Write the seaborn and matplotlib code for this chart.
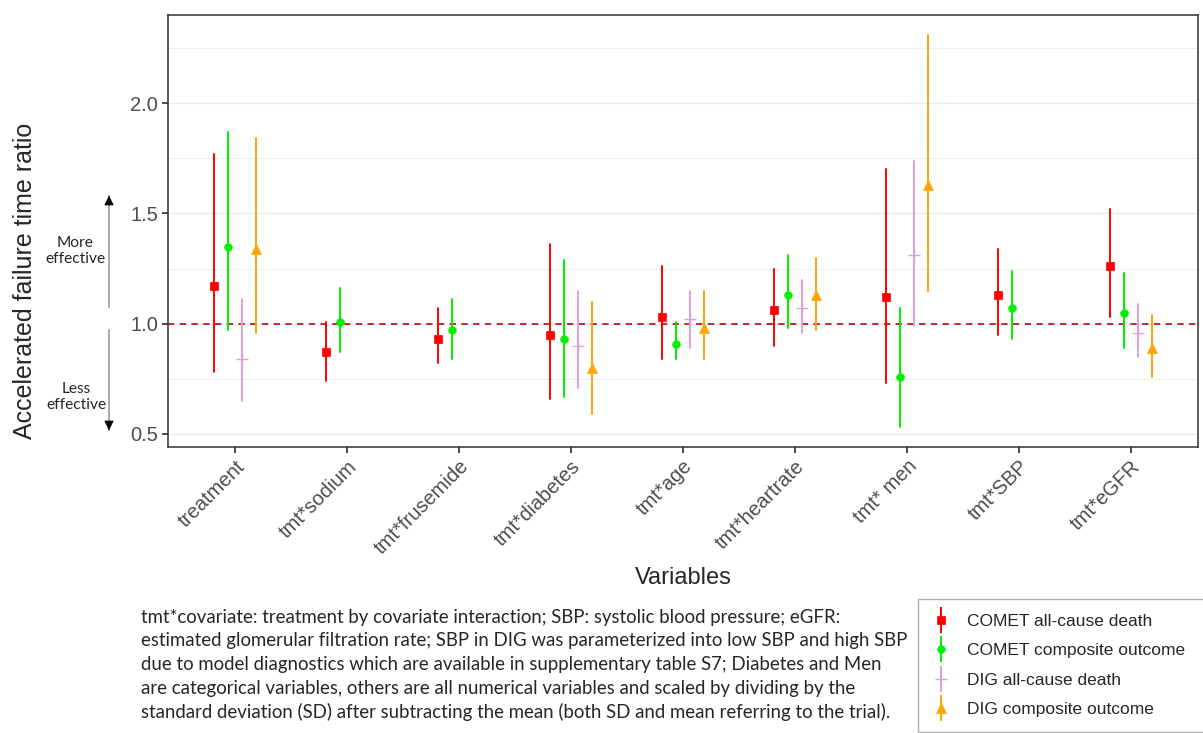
import matplotlib
matplotlib.use("Agg")
import matplotlib.pyplot as plt
from matplotlib.lines import Line2D
from matplotlib.ticker import MultipleLocator
import seaborn as sns
import pandas as pd

# categories on the x axis
variables = ["treatment", "tmt*sodium", "tmt*frusemide", "tmt*diabetes", "tmt*age",
             "tmt*heartrate", "tmt* men", "tmt*SBP", "tmt*eGFR"]
outcomes = ["COMET all-cause death", "COMET composite outcome",
            "DIG all-cause death", "DIG composite outcome"]

# COMET all-cause death
comet_death_est = [1.17, 0.87, 0.93, 0.95, 1.03, 1.06, 1.12, 1.13, 1.26]
comet_death_lo = [0.78, 0.74, 0.82, 0.66, 0.84, 0.90, 0.73, 0.95, 1.03]
comet_death_hi = [1.77, 1.01, 1.07, 1.36, 1.26, 1.25, 1.70, 1.34, 1.52]

# COMET composite outcome
comet_comp_est = [1.35, 1.01, 0.97, 0.93, 0.91, 1.13, 0.76, 1.07, 1.05]
comet_comp_lo = [0.97, 0.87, 0.84, 0.67, 0.84, 0.98, 0.53, 0.93, 0.89]
comet_comp_hi = [1.87, 1.16, 1.11, 1.29, 1.01, 1.31, 1.07, 1.24, 1.23]

# DIG (no sodium, frusemide, SBP)
dig_vars = ["treatment", "tmt*diabetes", "tmt*age", "tmt*heartrate", "tmt* men", "tmt*eGFR"]
dig_death_est = [0.84, 0.90, 1.02, 1.07, 1.31, 0.96]
dig_death_lo = [0.65, 0.71, 0.89, 0.96, 0.99, 0.85]
dig_death_hi = [1.11, 1.15, 1.15, 1.20, 1.74, 1.09]

dig_comp_est = [1.34, 0.80, 0.98, 1.13, 1.63, 0.89]
dig_comp_lo = [0.96, 0.59, 0.84, 0.97, 1.15, 0.76]
dig_comp_hi = [1.84, 1.10, 1.15, 1.30, 2.31, 1.04]

colors = {"COMET all-cause death": "#FF0000", "COMET composite outcome": "#00EE00",
          "DIG all-cause death": "#DDA0DD", "DIG composite outcome": "#FFA500"}
markers = ["s", "o", "+", "^"]
marker_sizes = {"s": 6.0, "o": 5.5, "+": 8.5, "^": 6.5}
marker_edges = {"s": 0.5, "o": 0.5, "+": 1.0, "^": 0.5}

footnote = [
    "tmt*covariate: treatment by covariate interaction; SBP: systolic blood pressure; eGFR:",
    "estimated glomerular filtration rate; SBP in DIG was parameterized into low SBP and high SBP",
    "due to model diagnostics which are available in supplementary table S7; Diabetes and Men",
    "are categorical variables, others are all numerical variables and scaled by dividing by the",
    "standard deviation (SD) after subtracting the mean (both SD and mean referring to the trial).",
]

# long table: lower / estimate / upper rows, median = estimate, full range = CI
rows = []
series = [
    (outcomes[0], variables, comet_death_lo, comet_death_est, comet_death_hi),
    (outcomes[1], variables, comet_comp_lo, comet_comp_est, comet_comp_hi),
    (outcomes[2], dig_vars, dig_death_lo, dig_death_est, dig_death_hi),
    (outcomes[3], dig_vars, dig_comp_lo, dig_comp_est, dig_comp_hi),
]
for name, cats, lo, est, hi in series:
    for c, a, b, d in zip(cats, lo, est, hi):
        for v in (a, b, d):
            rows.append({"variable": c, "ratio": v, "outcome": name})
df = pd.DataFrame(rows)

sns.set_theme(style="whitegrid", rc={
    "axes.edgecolor": "#333333", "axes.linewidth": 1.1,
    "grid.color": "#EBEBEB", "grid.linewidth": 1.0,
    "xtick.bottom": True, "ytick.left": True,
    "xtick.color": "#333333", "ytick.color": "#333333",
    "xtick.major.size": 4, "ytick.major.size": 4,
})
plt.rcParams["font.family"] = ["Liberation Sans", "DejaVu Sans"]

W, H = 1203, 733
fig = plt.figure(figsize=(W / 100, H / 100), dpi=100)
ax = fig.add_axes([168 / W, 1 - 447 / H, 1030 / W, 432 / H])

def fx(px):
    return px / W

def fy(py):
    return 1 - py / H

ax.axhline(1.0, color="#B71C1C", linestyle=(0, (3.5, 3)), linewidth=1.3, zorder=1)

sns.pointplot(data=df, x="variable", y="ratio", hue="outcome", order=variables,
              hue_order=outcomes, palette=colors, estimator="median",
              errorbar=("pi", 100), dodge=0.375, markers=markers, linestyle="none",
              markersize=5, markeredgewidth=0.5, err_kws={"linewidth": 1.4},
              legend=False, ax=ax)

# per-shape marker sizes, like the ggplot shapes
for ln in ax.lines:
    m = ln.get_marker()
    if m in marker_sizes:
        ln.set_markersize(marker_sizes[m])
        ln.set_markeredgewidth(marker_edges[m])

ax.set_xlim(-0.6, 8.6)
ax.set_ylim(0.441, 2.40)
ax.set_yticks([0.5, 1.0, 1.5, 2.0])
ax.yaxis.set_minor_locator(MultipleLocator(0.25))
ax.grid(which="minor", axis="y", color="#EBEBEB", linewidth=0.6)
ax.tick_params(which="minor", length=0)
ax.tick_params(axis="y", labelsize=14.5, labelcolor="#4D4D4D", pad=3)
ax.tick_params(axis="x", labelsize=14.5, labelcolor="#4D4D4D", pad=3)
for lab in ax.get_xticklabels():
    lab.set_rotation(45)
    lab.set_ha("right")
    lab.set_rotation_mode("anchor")
ax.set_xlabel("")
ax.set_ylabel("")
for s in ax.spines.values():
    s.set_visible(True)

fig.text(fx(683), fy(578), "Variables", fontsize=17, ha="center", va="center")
fig.text(fx(25), fy(281), "Accelerated failure time ratio", fontsize=18,
         rotation=90, ha="center", va="center")

# effectiveness arrows
for y0, y1 in [(310, 193), (327, 433)]:
    ax.annotate("", xy=(fx(109), fy(y1)), xytext=(fx(109), fy(y0)),
                xycoords="figure fraction", textcoords="figure fraction",
                arrowprops=dict(arrowstyle="-", color="#999999", lw=1.2))
    d = 1 if y1 > y0 else -1
    ax.annotate("", xy=(fx(109), fy(y1)), xytext=(fx(109), fy(y1 - d * 8)),
                xycoords="figure fraction", textcoords="figure fraction",
                arrowprops=dict(arrowstyle="-|>", color="black", lw=0.8,
                                mutation_scale=14))
fig.text(fx(75), fy(251), "More\neffective", fontsize=11.2, family="Lato",
         ha="center", va="center", linespacing=1.2)
fig.text(fx(76), fy(397), "Less\neffective", fontsize=11.2, family="Lato",
         ha="center", va="center", linespacing=1.2)

for i, line in enumerate(footnote):
    fig.text(fx(141), fy(617 + i * 23.75), line, fontsize=13.4, family="Lato",
             ha="left", va="center")

handles = []
for name, m in zip(outcomes, markers):
    c = colors[name]
    bar = Line2D([], [], marker="|", markersize=19, markeredgewidth=1.4,
                 color=c, linestyle="none")
    pt = Line2D([], [], marker=m, markersize=marker_sizes[m],
                markeredgewidth=marker_edges[m], color=c, linestyle="none")
    handles.append((bar, pt))
leg = fig.legend(handles, outcomes, loc="upper left", mode="expand",
                 bbox_to_anchor=(fx(918), 0, 0.3, fy(599)), borderaxespad=0,
                 fontsize=12.5, frameon=True, fancybox=False, borderpad=0.85,
                 handlelength=1.0, handletextpad=0.97, labelspacing=0.82)
leg.get_frame().set_edgecolor("#999999")
leg.get_frame().set_linewidth(1.0)

fig.savefig("out.png", dpi=100)
